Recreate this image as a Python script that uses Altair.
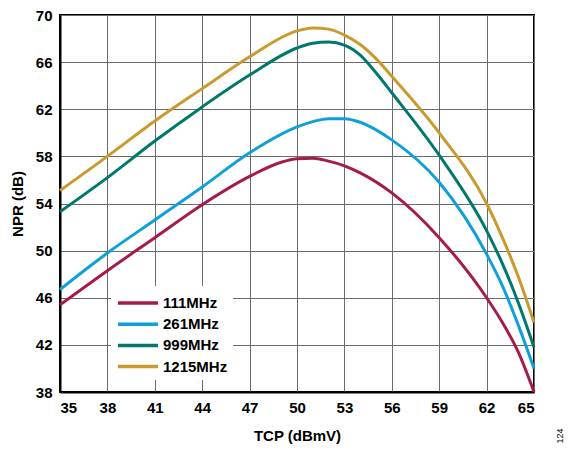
import altair as alt
import pandas as pd

series = ["111MHz", "261MHz", "999MHz", "1215MHz"]
colors = ["#A51C4B", "#0FA0D9", "#00786C", "#C99A2E"]

x_111 = [35, 38, 41, 44, 47, 49, 50, 51, 52, 53, 54, 56, 59, 62, 63, 64, 65]
y_111 = [45.4, 48.3, 51.1, 53.9, 56.3, 57.5, 57.8, 57.85, 57.6, 57.2, 56.6, 54.9, 51.1, 46.0, 43.9, 41.4, 38.0]

x_261 = [35, 38, 41, 44, 47, 50, 51, 52, 53, 54, 56, 59, 62, 63, 64, 65]
y_261 = [46.7, 49.8, 52.6, 55.4, 58.3, 60.5, 60.95, 61.2, 61.2, 60.9, 59.4, 55.8, 49.7, 47.0, 43.7, 40.0]

x_999 = [35, 38, 41, 44, 47, 50, 51, 52, 53, 54, 55, 56, 59, 62, 63, 64, 65]
y_999 = [53.3, 56.2, 59.3, 62.2, 64.9, 67.2, 67.6, 67.7, 67.45, 66.6, 65.1, 63.4, 58.1, 51.7, 48.9, 45.6, 41.8]

x_1215 = [35, 38, 41, 44, 47, 50, 51, 52, 53, 54, 55, 56, 59, 62, 63, 64, 65]
y_1215 = [55.1, 58.0, 61.0, 63.75, 66.45, 68.65, 68.9, 68.8, 68.3, 67.5, 66.3, 64.8, 60.0, 54.0, 51.1, 47.8, 43.9]

x_ticks = [35, 38, 41, 44, 47, 50, 53, 56, 59, 62, 65]
y_ticks = [38, 42, 46, 50, 54, 58, 62, 66, 70]

rows = []
for name, xs, ys in zip(series, [x_111, x_261, x_999, x_1215], [y_111, y_261, y_999, y_1215]):
    for x, y in zip(xs, ys):
        rows.append({"series": name, "tcp": x, "npr": y})
df = pd.DataFrame(rows)

FONT = "Liberation Sans"

lines = alt.Chart(df).mark_line(strokeWidth=3, interpolate="monotone").encode(
    x=alt.X("tcp:Q", scale=alt.Scale(domain=[35, 65], nice=False, zero=False),
            axis=alt.Axis(values=x_ticks, title="TCP (dBmV)", labelPadding=8, titlePadding=13)),
    y=alt.Y("npr:Q", scale=alt.Scale(domain=[38, 70], nice=False, zero=False),
            axis=alt.Axis(values=y_ticks, title="NPR (dB)", labelPadding=8, titlePadding=10)),
    color=alt.Color("series:N", scale=alt.Scale(domain=series, range=colors),
                    legend=alt.Legend(title=None, orient="none", legendX=51, legendY=271,
                                      symbolType="M-1,0L3,0", symbolSize=400, symbolStrokeWidth=3.5,
                                      labelFontSize=15, labelFontWeight="bold", labelFont=FONT,
                                      labelColor="black", rowPadding=1.2, padding=5,
                                      labelOffset=23, fillColor="white")),
)

note = alt.Chart(pd.DataFrame({"t": ["124"]})).mark_text(
    angle=270, fontSize=9, font=FONT, color="black"
).encode(x=alt.value(500), y=alt.value(421), text="t:N")

chart = alt.layer(lines, note).properties(
    width=474, height=377,
    autosize=alt.AutoSizeParams(type="none"),
    padding={"left": 52, "top": 7, "right": 30, "bottom": 52},
).configure_view(
    stroke="black", strokeWidth=2
).configure_axis(
    domainColor="black", domainWidth=2, gridColor="#6b6b6b", gridWidth=1,
    ticks=False, tickSize=0, labelFont=FONT, labelFontWeight="bold", labelFontSize=15,
    labelColor="black", titleFont=FONT, titleFontWeight="bold", titleFontSize=15,
    titleColor="black"
)

chart.save("out.html", embed_options={"renderer": "svg", "actions": False})
